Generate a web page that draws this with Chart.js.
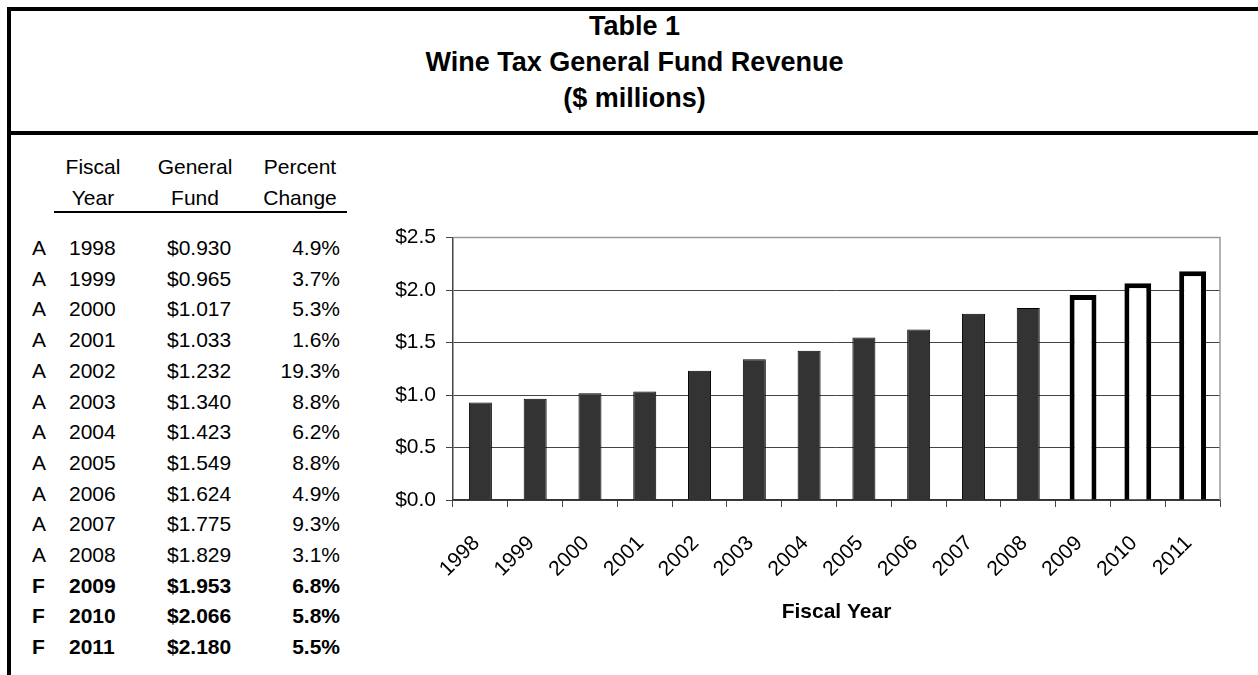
<!DOCTYPE html>
<html>
<head>
<meta charset="utf-8">
<script src="https://cdn.jsdelivr.net/npm/chart.js@4.4.1/dist/chart.umd.min.js"></script>
<style>
  html, body { margin: 0; padding: 0; background: #fff; }
  body { width: 1258px; height: 675px; position: relative; overflow: hidden;
         font-family: "Liberation Sans", Arial, sans-serif; color: #000; }
  .rule { position: absolute; background: #000; }
  #title { position: absolute; left: 11px; right: 0; top: 8px; text-align: center;
           font-weight: bold; font-size: 27px; line-height: 36px; }
  .cell { position: absolute; font-size: 21px; line-height: 30px; white-space: nowrap; }
  .bold { font-weight: bold; }
  #chartBox { position: absolute; left: 360px; top: 215px; width: 898px; height: 460px; }
</style>
</head>
<body>
<div class="rule" style="left:7px; top:7px; width:1251px; height:4px;"></div>
<div class="rule" style="left:7px; top:131px; width:1251px; height:4px;"></div>
<div class="rule" style="left:7px; top:7px; width:4px; height:668px;"></div>

<div id="title">Table 1<br>Wine Tax General Fund Revenue<br>($ millions)</div>

<div id="table"></div>
<div class="rule" style="left:54px; top:211px; width:293px; height:2px;"></div>

<div id="chartBox"><canvas id="chart" width="898" height="460"></canvas></div>

<script>
// ====================== ДАННЫЕ ======================
const years   = ["1998","1999","2000","2001","2002","2003","2004","2005","2006","2007","2008","2009","2010","2011"];
const status  = ["A","A","A","A","A","A","A","A","A","A","A","F","F","F"];
const fund    = [0.930, 0.965, 1.017, 1.033, 1.232, 1.340, 1.423, 1.549, 1.624, 1.775, 1.829, 1.953, 2.066, 2.180];
const pctChg  = [4.9, 3.7, 5.3, 1.6, 19.3, 8.8, 6.2, 8.8, 4.9, 9.3, 3.1, 6.8, 5.8, 5.5];
const yTicks  = [0, 0.5, 1.0, 1.5, 2.0, 2.5];

// ====================== ТАБЛИЦА ======================
function cell(text, left, top, width, align, bold) {
  const d = document.createElement("div");
  d.className = "cell" + (bold ? " bold" : "");
  d.style.left = left + "px";
  d.style.top = top + "px";
  d.style.width = width + "px";
  d.style.textAlign = align;
  d.textContent = text;
  document.getElementById("table").appendChild(d);
}

function createTable() {
  const hdr = [["Fiscal", "Year", 58, 70], ["General", "Fund", 150, 90], ["Percent", "Change", 256, 88]];
  hdr.forEach(h => {
    cell(h[0], h[2], 152, h[3], "center", false);
    cell(h[1], h[2], 183, h[3], "center", false);
  });
  const firstRow = 248, rowH = 30.7;   // центры строк
  years.forEach((y, i) => {
    const top = firstRow + i * rowH - 15;
    const b = status[i] === "F";
    cell(status[i], 32, top, 18, "left", b);
    cell(y, 69, top, 60, "left", b);
    cell("$" + fund[i].toFixed(3), 167, top, 80, "left", b);
    cell(pctChg[i].toFixed(1) + "%", 260, top, 80, "right", b);
  });
}
createTable();

// ====================== ГРАФИК ======================
const actual   = fund.map((v, i) => status[i] === "A" ? v : null);
const forecast = fund.map((v, i) => status[i] === "F" ? v : null);

const frame = {
  id: "frame",
  afterDatasetsDraw(chart) {
    const a = chart.chartArea, ctx = chart.ctx;
    ctx.save();
    ctx.strokeStyle = "#9a9a9a";
    ctx.lineWidth = 1.5;
    ctx.beginPath();
    ctx.moveTo(a.left, a.top);
    ctx.lineTo(a.right, a.top);
    ctx.lineTo(a.right, a.bottom);
    ctx.stroke();
    ctx.restore();
  }
};

const font = { family: '"Liberation Sans", Arial, sans-serif', size: 21 };

new Chart(document.getElementById("chart"), {
  type: "bar",
  data: {
    labels: years,
    datasets: [
      { data: actual, backgroundColor: "#333333", borderColor: "#000", borderWidth: 1,
        barPercentage: 0.42, categoryPercentage: 1, grouped: false, skipNull: true },
      { data: forecast, backgroundColor: "#fff", borderColor: "#000", borderWidth: 5,
        barPercentage: 0.49, categoryPercentage: 1, grouped: false, skipNull: true }
    ]
  },
  options: {
    responsive: false,
    animation: false,
    devicePixelRatio: 1,
    layout: { padding: { top: 16, right: 38, bottom: 50, left: 0 } },
    plugins: { legend: { display: false }, tooltip: { enabled: false } },
    scales: {
      y: {
        min: 0, max: 2.5,
        afterFit: s => { s.width = 93; },
        afterBuildTicks: s => { s.ticks = yTicks.map(v => ({ value: v })); },
        border: { color: "#444", width: 1.5 },
        grid: { color: "#444", lineWidth: 1, tickLength: 7 },
        ticks: { color: "#000", font: font, padding: 10,
                 callback: v => "$" + Number(v).toFixed(1) }
      },
      x: {
        afterFit: s => { s.height = 125; },
        border: { color: "#333", width: 1.5 },
        grid: { drawOnChartArea: false, color: "#444", tickLength: 7, offset: true },
        ticks: { color: "#000", font: font, minRotation: 45, maxRotation: 45,
                 autoSkip: false, padding: 24, labelOffset: -4 },
        title: { display: true, text: "Fiscal Year", color: "#000",
                 font: { ...font, weight: "bold" }, padding: { top: 0, bottom: 0 } }
      }
    }
  },
  plugins: [frame]
});
</script>
</body>
</html>
